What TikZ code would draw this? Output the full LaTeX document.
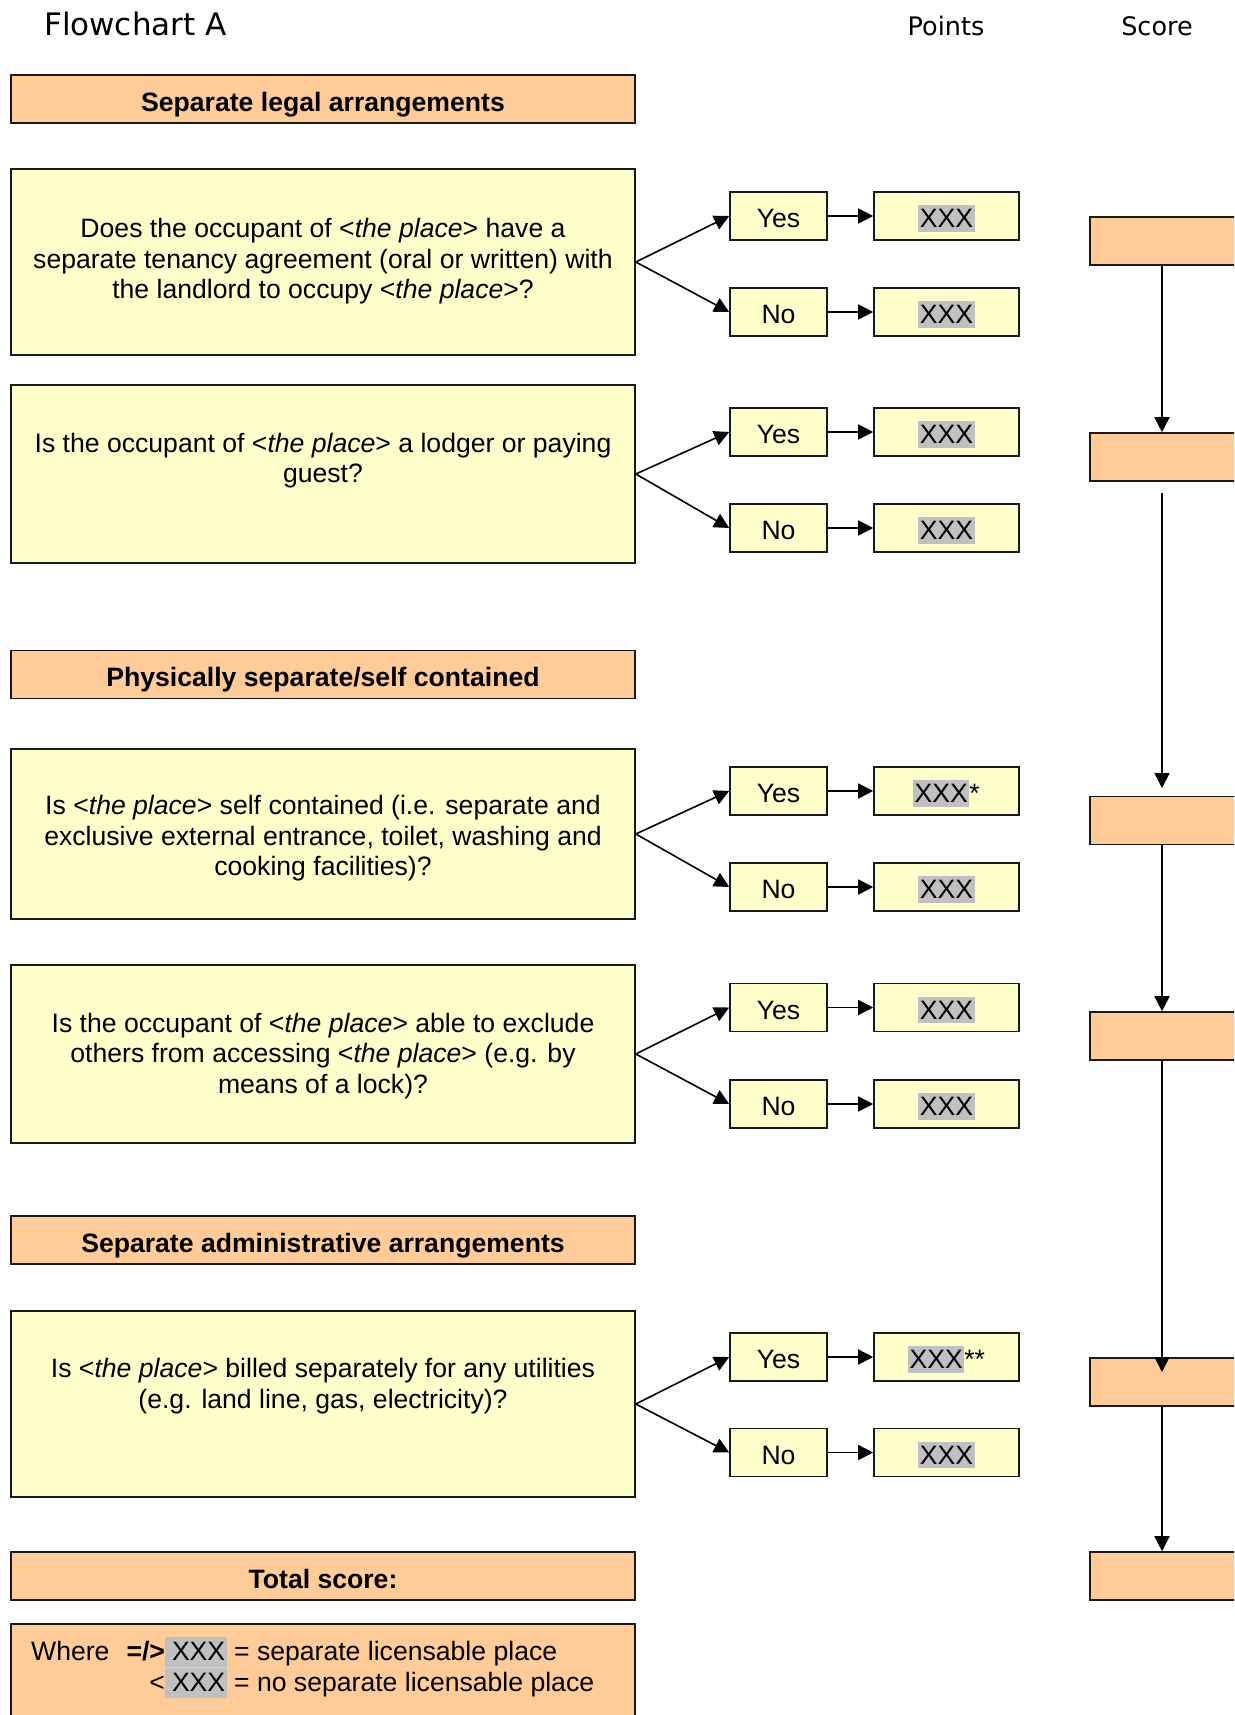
\documentclass[tikz,border=0pt]{standalone}
\usepackage{fontspec}
\setmainfont{Liberation Sans}
\newfontfamily\ttlfont{DejaVu Sans}
\usetikzlibrary{arrows.meta,calc}
\definecolor{hdrfill}{HTML}{FFCC99}
\definecolor{qfill}{HTML}{FFFFCC}
\definecolor{hlgray}{HTML}{C0C0C0}
\definecolor{edgec}{HTML}{1A1A1A}
\newcommand\myfs{\fontsize{26.6pt}{30.6pt}\selectfont}
\newcommand\hlx[1]{{\setlength{\fboxsep}{0pt}\colorbox{hlgray}{\rule[-4pt]{0pt}{26.5pt}\kern1.5pt #1\kern1.5pt}}}
\newcommand\hlw[1]{{\setlength{\fboxsep}{0pt}\colorbox{hlgray}{\rule[-7pt]{0pt}{30pt}\kern7pt #1\kern1.5pt}}}
\newcommand\tp{\textless\textit{the place}\textgreater}
\begin{document}
\begin{tikzpicture}[x=1pt,y=-1pt,
  box/.style={draw=edgec, line width=1.6pt, inner sep=0pt, font=\myfs},
  hdr/.style={box, fill=hdrfill, minimum width=624pt, minimum height=48pt, font=\myfs\bfseries, text height=24.4pt, text depth=0pt},
  qbox/.style={box, fill=qfill, minimum width=624pt},
  qtext/.style={inner sep=0pt, font=\myfs, align=center},
  ans/.style={box, fill=qfill, minimum width=97pt, minimum height=48pt, text height=23.5pt, text depth=0pt},
  pts/.style={box, fill=qfill, minimum width=145pt, minimum height=48pt, text height=23.5pt, text depth=0pt},
  scorebox/.style={box, fill=hdrfill, minimum width=190pt, minimum height=48pt},
  arr/.style={line width=1.6pt, draw=black, -{Triangle[length=15pt,width=15pt]}},
  txt/.style={inner sep=0pt, font=\myfs}
]
\useasboundingbox (0,0) rectangle (1234,1715);
\fill[white] (0,0) rectangle (1234,1715);
\clip (0,0) rectangle (1234,1715);

% column titles
\node[inner sep=0pt, anchor=west, font=\ttlfont\fontsize{31pt}{36pt}\selectfont] (title) at (44,24) {Flowchart A};
\node[inner sep=0pt, font=\ttlfont\fontsize{25.5pt}{30pt}\selectfont] (ptshead) at (946,26) {Points};
\node[inner sep=0pt, font=\ttlfont\fontsize{25.5pt}{30pt}\selectfont] (schead) at (1157,26) {Score};

% headers
\node[hdr] (h1) at (323,99) {Separate legal arrangements};
\node[hdr] (h2) at (323,674.5) {Physically separate/self contained};
\node[hdr] (h3) at (323,1240) {Separate administrative arrangements};
\node[hdr] (h4) at (323,1576) {Total score:};

% questions
\node[qbox, minimum height=186pt] (q1) at (323,262) {};
\node[qtext] (q1t) at ($(q1)+(0,-0.5)$) {Does the occupant of \tp{} have a\\separate tenancy agreement (oral or written) with\\the landlord to occupy \tp?};
\node[qbox, minimum height=178pt] (q2) at (323,474) {};
\node[qtext] (q2t) at ($(q2)+(0,-1)$) {Is the occupant of \tp{} a lodger or paying\\guest?\\\mbox{}};
\node[qbox, minimum height=170pt] (q3) at (323,834) {};
\node[qtext] (q3t) at ($(q3)+(0,4.4)$) {Is \tp{} self contained (i.e. separate and\\exclusive external entrance, toilet, washing and\\cooking facilities)?};
\node[qbox, minimum height=178pt] (q4) at (323,1054) {};
\node[qtext] (q4t) at ($(q4)+(0,2)$) {Is the occupant of \tp{} able to exclude\\others from accessing \tp{} (e.g. by\\means of a lock)?};
\node[qbox, minimum height=186pt] (q5) at (323,1404) {};
\node[qtext] (q5t) at ($(q5)+(0,-5.5)$) {Is \tp{} billed separately for any utilities\\(e.g. land line, gas, electricity)?\\\mbox{}};

% answers
\node[ans] (y1) at (778.5,216) {Yes};
\node[ans] (n1) at (778.5,312) {No};
\node[ans] (y2) at (778.5,432) {Yes};
\node[ans] (n2) at (778.5,528) {No};
\node[ans] (y3) at (778.5,791) {Yes};
\node[ans] (n3) at (778.5,887) {No};
\node[ans] (y4) at (778.5,1007.5) {Yes};
\node[ans] (n4) at (778.5,1104) {No};
\node[ans] (y5) at (778.5,1357) {Yes};
\node[ans] (n5) at (778.5,1452.5) {No};

% points
\node[pts] (py1) at (946.5,216) {\hlx{XXX}};
\node[pts] (pn1) at (946.5,312) {\hlx{XXX}};
\node[pts] (py2) at (946.5,432) {\hlx{XXX}};
\node[pts] (pn2) at (946.5,528) {\hlx{XXX}};
\node[pts] (py3) at (946.5,791) {\hlx{XXX}*};
\node[pts] (pn3) at (946.5,887) {\hlx{XXX}};
\node[pts] (py4) at (946.5,1007.5) {\hlx{XXX}};
\node[pts] (pn4) at (946.5,1104) {\hlx{XXX}};
\node[pts] (py5) at (946.5,1357) {\hlx{XXX}**};
\node[pts] (pn5) at (946.5,1452.5) {\hlx{XXX}};

% connectors
\foreach \i in {1,...,5} {
  \draw[arr] (q\i.east) -- (y\i.west);
  \draw[arr] (q\i.east) -- (n\i.west);
  \draw[arr] (y\i) -- (py\i);
  \draw[arr] (n\i) -- (pn\i);
}

% score column
\node[scorebox] (s1) at (1185,241) {};
\node[scorebox] (s2) at (1185,457) {};
\node[scorebox] (s3) at (1185,820.5) {};
\node[scorebox] (s4) at (1185,1036) {};
\node[scorebox] (s5) at (1185,1382) {};
\node[scorebox] (s6) at (1185,1576) {};
\coordinate (ax) at (1162,0);
\coordinate (g1) at (1162,493);
\coordinate (g2) at (1162,788);
\coordinate (g3) at (1162,1372);
\draw[arr] (ax |- s1.south) -- (ax |- s2.north);
\draw[arr] (g1) -- (g2);
\draw[arr] (ax |- s3.south) -- (ax |- s4.north);
\draw[arr] (ax |- s4.south) -- (g3);
\draw[arr] (ax |- s5.south) -- (ax |- s6.north);

% legend box
\node[box, fill=hdrfill, minimum width=624pt, minimum height=130pt, anchor=north] (wb) at (323,1623) {};
\node[txt, anchor=base west] (w1) at (31,1660) {Where\hspace{17pt}\textbf{=/>}\hlw{XXX} = separate licensable place};
\node[txt, anchor=base west] (w2) at (31,1691) {\hphantom{Where\hspace{17pt}\textbf{=/}}<\hlw{XXX} = no separate licensable place};
\end{tikzpicture}
\end{document}
